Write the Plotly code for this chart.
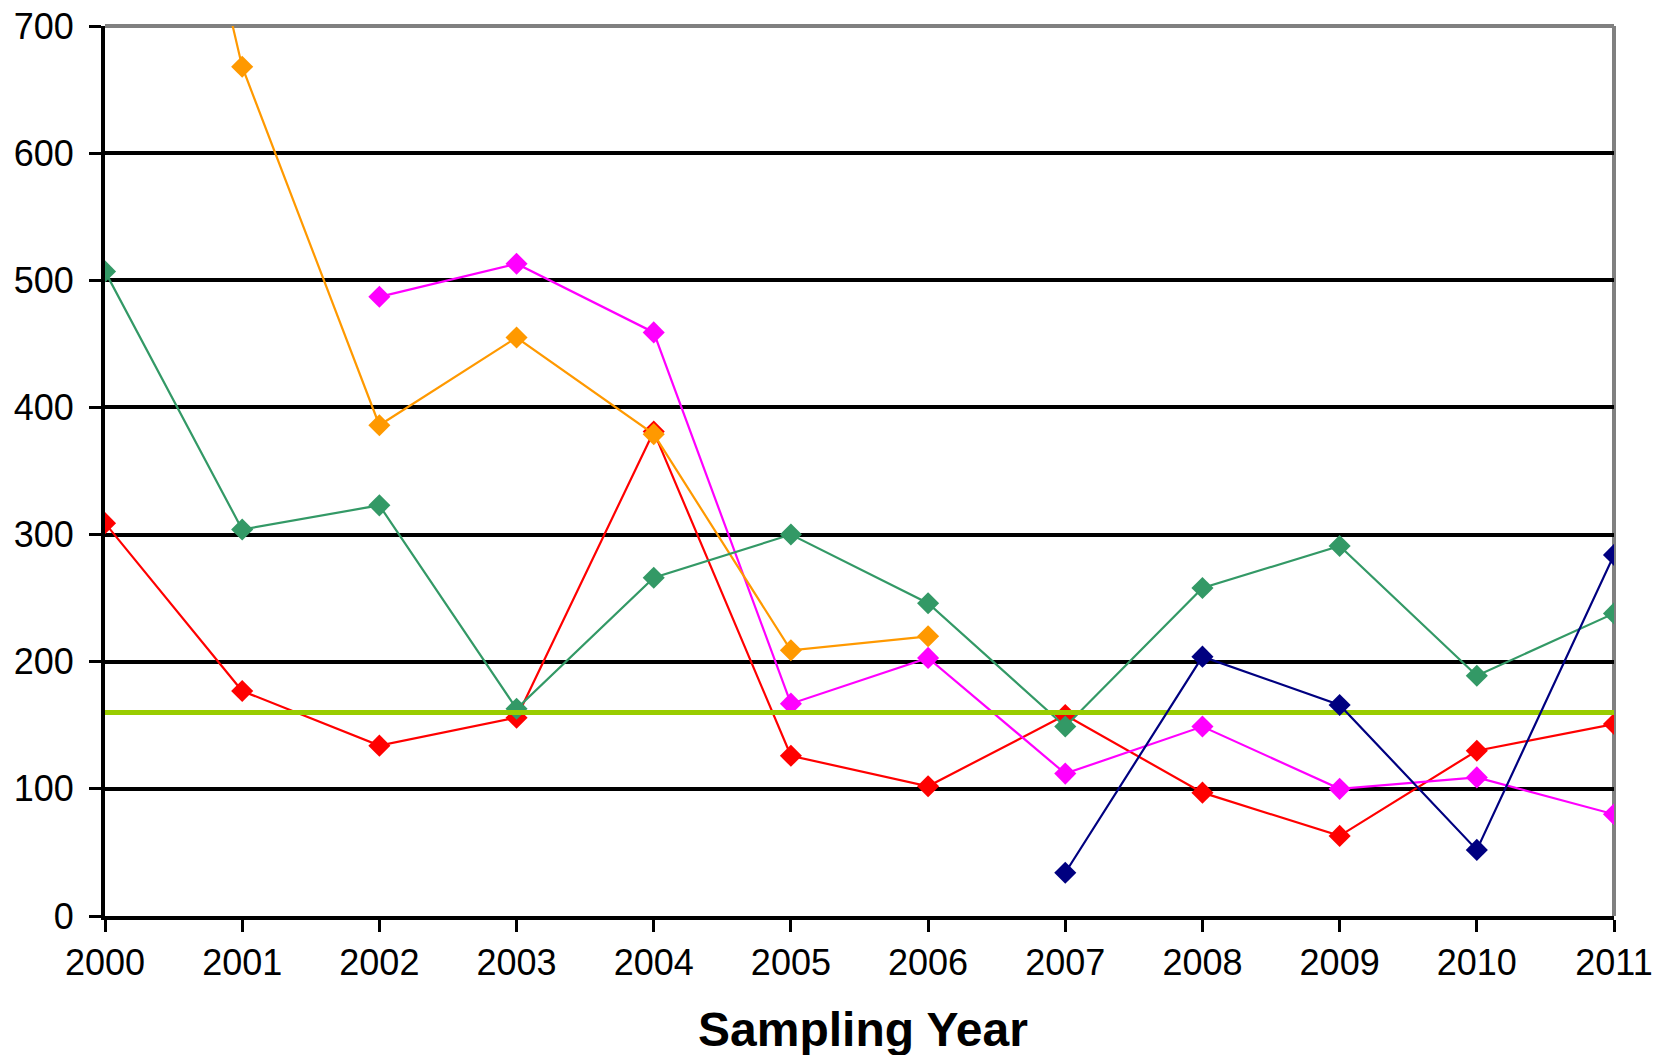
import plotly.graph_objects as go

# Sampling years on the x axis
years = [2000, 2001, 2002, 2003, 2004, 2005, 2006, 2007, 2008, 2009, 2010, 2011]

# Measured values per site (None where no sample was taken)
green_site = [507, 304, 323, 163, 266, 300, 246, 149, 258, 291, 189, 238]
red_site = [309, 177, 134, 156, 381, 126, 102, 158, 97, 63, 130, 151]
magenta_site = [None, None, 487, 513, 459, 167, 203, 112, 149, 100, 109, 80]
orange_site = [1130, 668, 386, 455, 379, 209, 220, None, None, None, None, None]
navy_site = [None, None, None, None, None, None, None, 34, 204, 166, 52, 284]

# Reference level drawn across the whole period
threshold_years = [2000, 2011]
threshold_values = [160, 160]

y_ticks = [0, 100, 200, 300, 400, 500, 600, 700]
x_title = "Sampling Year"

fig = go.Figure()


def add_site(values, color):
    fig.add_trace(go.Scatter(
        x=years, y=values, mode="lines+markers",
        line=dict(color=color, width=2.2),
        marker=dict(symbol="diamond", size=17, color=color),
        connectgaps=False, showlegend=False,
    ))


add_site(red_site, "#FF0000")
add_site(magenta_site, "#FF00FF")
add_site(orange_site, "#FF9900")
add_site(green_site, "#339966")

fig.add_trace(go.Scatter(
    x=threshold_years, y=threshold_values, mode="lines",
    line=dict(color="#99CC00", width=5), showlegend=False,
))

add_site(navy_site, "#000080")

tick_font = dict(family="Liberation Sans, Arial, sans-serif", size=36, color="black")

fig.update_xaxes(
    range=[2000, 2011], tickvals=years, ticktext=[str(y) for y in years],
    showgrid=False, zeroline=False, automargin=False,
    showline=True, linecolor="black", linewidth=4,
    ticks="outside", ticklen=12, tickwidth=3, tickcolor="black",
    tickfont=tick_font,
)
fig.update_yaxes(
    range=[0, 700], tickvals=y_ticks, automargin=False,
    showgrid=True, gridcolor="black", gridwidth=3.5, zeroline=False,
    showline=True, linecolor="black", linewidth=4,
    ticks="outside", ticklen=12, tickwidth=3, tickcolor="black",
    tickfont=tick_font, ticklabelstandoff=8,
)

# Grey frame on the top and right edges of the plotting area
fig.add_shape(type="line", xref="paper", yref="paper", x0=0, x1=1, y0=1, y1=1,
              line=dict(color="#808080", width=4), layer="between")
fig.add_shape(type="line", xref="paper", yref="paper", x0=1, x1=1, y0=0, y1=1,
              line=dict(color="#808080", width=4), layer="between")

fig.add_annotation(
    text=f"<b>{x_title}</b>", xref="paper", yref="paper",
    x=0.502, y=-0.127, xanchor="center", yanchor="middle", showarrow=False,
    font=dict(family="Liberation Sans, Arial, sans-serif", size=48, color="black"),
)

fig.update_layout(
    width=1667, height=1055,
    margin=dict(l=105, r=53, t=26, b=139),
    paper_bgcolor="white", plot_bgcolor="white",
)

fig.write_html("out.html")
